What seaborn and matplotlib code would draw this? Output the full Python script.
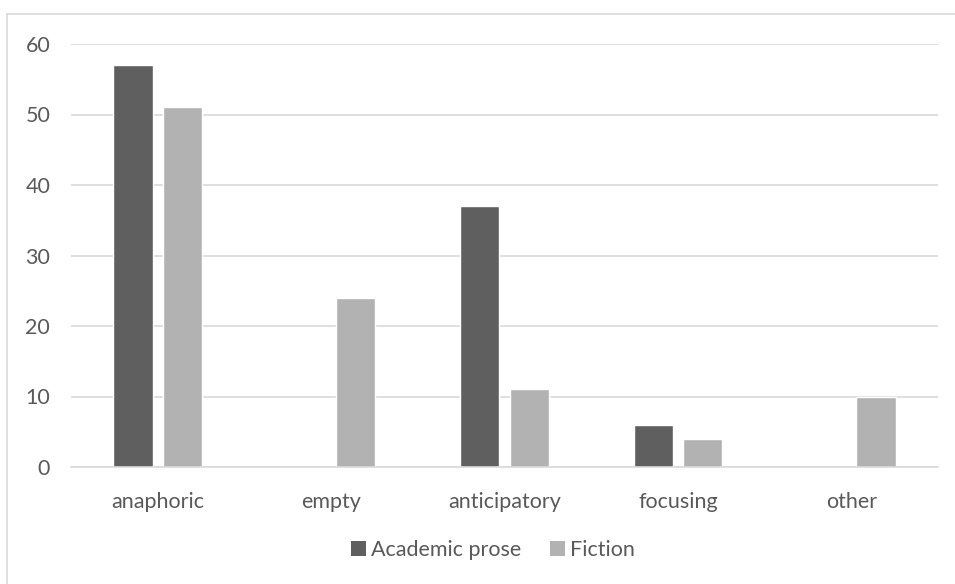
import matplotlib
matplotlib.use("Agg")
import matplotlib.pyplot as plt
import seaborn as sns
import pandas as pd
from matplotlib.patches import Patch
from matplotlib.lines import Line2D

categories = ["anaphoric", "empty", "anticipatory", "focusing", "other"]
academic_prose = [57, 0, 37, 6, 0]
fiction = [51, 24, 11, 4, 10]
series_names = ["Academic prose", "Fiction"]
y_ticks = [0, 10, 20, 30, 40, 50, 60]

colors = ["#5f5f5f", "#b2b2b2"]
text_color = "#595959"
grid_color = "#d9d9d9"

df = pd.DataFrame({
    "category": categories * 2,
    "value": academic_prose + fiction,
    "series": [series_names[0]] * len(categories) + [series_names[1]] * len(categories),
})

sns.set_theme(style="white")
plt.rcParams["font.family"] = ["Lato", "DejaVu Sans"]

fig = plt.figure(figsize=(9.55, 5.84), dpi=100)
ax = fig.add_axes([71 / 955, 1 - 467 / 584, (938 - 71) / 955, (467 - 44) / 584])

sns.barplot(data=df, x="category", y="value", hue="series", order=categories,
            hue_order=series_names, palette=colors, width=0.57, gap=0.21,
            saturation=1, ax=ax, legend=False, zorder=3)

ax.set_ylim(0, 60)
ax.set_xlim(-0.5, len(categories) - 0.5)
ax.set_yticks(y_ticks)
ax.set_yticklabels([str(t) for t in y_ticks])
ax.yaxis.grid(True, color=grid_color, linewidth=1.2, zorder=0)
ax.set_axisbelow(True)
for side in ["top", "right", "left"]:
    ax.spines[side].set_visible(False)
ax.spines["bottom"].set_color(grid_color)
ax.spines["bottom"].set_linewidth(1.2)
ax.spines["bottom"].set_zorder(4)
ax.set_xlabel("")
ax.set_ylabel("")
ax.tick_params(axis="both", length=0, labelsize=15.5, labelcolor=text_color)
ax.tick_params(axis="y", pad=15)
ax.tick_params(axis="x", pad=18)

handles = [Patch(facecolor=c, edgecolor="none") for c in colors]
fig.legend(handles, series_names, loc="center", bbox_to_anchor=(493 / 955, 1 - 550 / 584),
           ncol=2, frameon=False, fontsize=15.5, labelcolor=text_color,
           handlelength=0.7, handleheight=0.7, handletextpad=0.25, columnspacing=1.3)

# outer chart frame
fig.add_artist(Line2D([7 / 955, 1.0], [1 - 14 / 584, 1 - 14 / 584], transform=fig.transFigure,
                      color=grid_color, linewidth=1.2))
fig.add_artist(Line2D([7 / 955, 7 / 955], [0.0, 1 - 14 / 584], transform=fig.transFigure,
                      color=grid_color, linewidth=1.2))

fig.savefig("out.png", dpi=100, facecolor="white")
